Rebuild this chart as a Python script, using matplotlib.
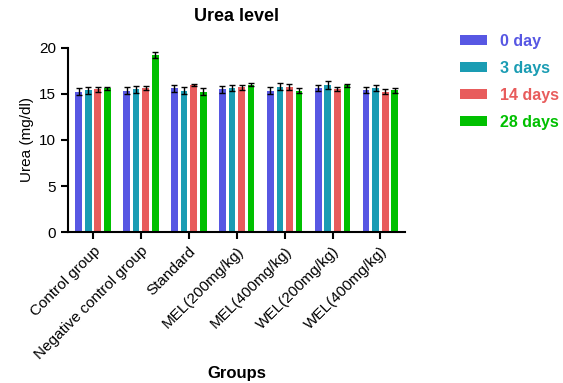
import numpy as np
import matplotlib.pyplot as plt

plt.rcParams['font.family'] = ['Liberation Sans', 'DejaVu Sans']

groups = ['Control group', 'Negative control group', 'Standard', 'MEL(200mg/kg)',
          'MEL(400mg/kg)', 'WEL(200mg/kg)', 'WEL(400mg/kg)']
series = ['0 day', '3 days', '14 days', '28 days']
colors = ['#5757e3', '#1a9cb3', '#e85c5c', '#00c000']

day0 = [15.25, 15.35, 15.6, 15.5, 15.35, 15.65, 15.4]
day3 = [15.4, 15.5, 15.35, 15.65, 15.8, 15.95, 15.65]
day14 = [15.5, 15.65, 16.0, 15.7, 15.75, 15.55, 15.25]
day28 = [15.6, 19.2, 15.25, 16.0, 15.35, 15.95, 15.4]

err0 = [0.4, 0.35, 0.35, 0.35, 0.35, 0.35, 0.35]
err3 = [0.4, 0.35, 0.35, 0.35, 0.4, 0.4, 0.35]
err14 = [0.3, 0.2, 0.1, 0.3, 0.3, 0.25, 0.3]
err28 = [0.2, 0.35, 0.35, 0.15, 0.25, 0.15, 0.25]

values = [day0, day3, day14, day28]
errors = [err0, err3, err14, err28]

fig = plt.figure(figsize=(5.63, 3.83), dpi=100)
ax = fig.add_axes([0.121, 0.394, 0.599, 0.481])

x = np.arange(len(groups))
slot = 0.2
width = 0.14
for i, (vals, errs) in enumerate(zip(values, errors)):
    ax.bar(x + (i - 1.5) * slot, vals, width, color=colors[i], label=series[i],
           yerr=errs, error_kw=dict(ecolor='black', elinewidth=1, capsize=2, capthick=1))

ax.set_xlim(-0.52, len(groups) - 0.48)
ax.set_ylim(0, 20)
ax.set_yticks([0, 5, 10, 15, 20])
ax.set_xticks(x)
ax.set_xticklabels(groups, rotation=45, ha='right', rotation_mode='anchor', fontsize=11)
ax.tick_params(axis='y', labelsize=11, width=1.5, length=5)
ax.tick_params(axis='x', width=1.5, length=5)
for s in ['top', 'right']:
    ax.spines[s].set_visible(False)
for s in ['left', 'bottom']:
    ax.spines[s].set_linewidth(1.5)

ax.set_ylabel('Urea (mg/dl)', fontsize=11)
ax.set_title('Urea level', fontsize=13, fontweight='bold', pad=19)
fig.text(0.42, 0.012, 'Groups', fontsize=12, fontweight='bold', ha='center')

leg = ax.legend(loc='upper left', bbox_to_anchor=(1.12, 1.155), frameon=False,
                fontsize=11.5, handlelength=1.7, handleheight=0.55, labelspacing=0.75)
for txt, c in zip(leg.get_texts(), colors):
    txt.set_color(c)
    txt.set_fontweight('bold')

fig.savefig('out.png', dpi=100)
